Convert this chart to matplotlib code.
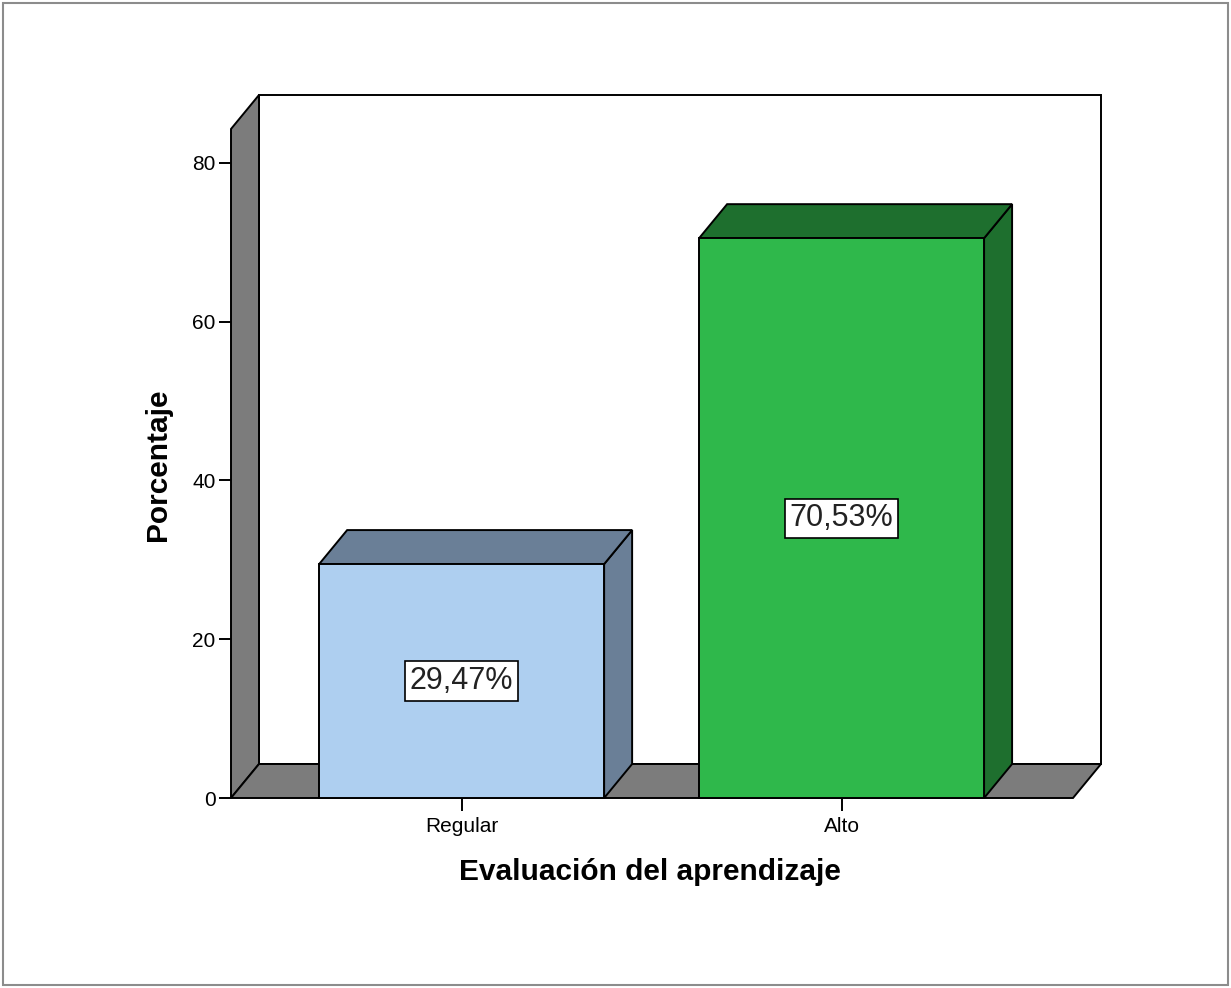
import matplotlib
matplotlib.use("Agg")
import matplotlib.pyplot as plt
from matplotlib.patches import Polygon, Rectangle

plt.rcParams['font.family'] = ['Liberation Sans', 'DejaVu Sans']

# data
categories = ["Regular", "Alto"]
percent = [29.47, 70.53]
value_labels = ["29,47%", "70,53%"]
y_ticks = [0, 20, 40, 60, 80]

face_colors = ["#aecff0", "#2fb84b"]
shade_colors = ["#6a7f97", "#1e6f2e"]
wall_color = "#7c7c7c"

W, H = 1231, 988
fig = plt.figure(figsize=(W / 100, H / 100), dpi=100)
fig.patches.append(Rectangle((3 / W, 3 / H), 1 - 6 / W, 1 - 6 / H,
                             transform=fig.transFigure, fill=False,
                             edgecolor="#8c8c8c", lw=1.5))

# front plane: x from 231 to 1073 px, y=0 at 798 px, y=80 at 163 px
ax = fig.add_axes([231 / W, (H - 798) / H, 842 / W, 635 / H])
xl, xr = -0.607, 1.609
ax.set_xlim(xl, xr)
ax.set_ylim(0, 80)
for s in ax.spines.values():
    s.set_visible(False)

dx = 28 / 380.0          # depth offset in x data units
dy = 34 / 7.9375         # depth offset in y data units
top = 88.57              # top of back wall
bar_w = 0.75
lw = 1.4

def poly(pts, fc, z):
    ax.add_patch(Polygon(pts, closed=True, facecolor=fc, edgecolor="black",
                         lw=lw, clip_on=False, zorder=z, joinstyle="miter"))

# back wall, left wall, floor
poly([(xl + dx, dy), (xr + dx, dy), (xr + dx, top), (xl + dx, top)], "white", 1)
poly([(xl, 0), (xl + dx, dy), (xl + dx, top), (xl, top - dy)], wall_color, 2)
poly([(xl, 0), (xr, 0), (xr + dx, dy), (xl + dx, dy)], wall_color, 2)

for i, (v, lab) in enumerate(zip(percent, value_labels)):
    x0, x1 = i - bar_w / 2, i + bar_w / 2
    poly([(x1, 0), (x1 + dx, dy), (x1 + dx, v + dy), (x1, v)], shade_colors[i], 3)
    poly([(x0, v), (x1, v), (x1 + dx, v + dy), (x0 + dx, v + dy)], shade_colors[i], 3)
    ax.bar(i, v, width=bar_w, color=face_colors[i], edgecolor="black", lw=lw,
           zorder=4, clip_on=False)
    ax.text(i, v / 2, lab, ha="center", va="center", fontsize=22, zorder=6,
            color="#222222",
            bbox=dict(boxstyle="square,pad=0.15", facecolor="white",
                      edgecolor="black", lw=1.2))

ax.set_xticks(range(len(categories)))
ax.set_xticklabels(categories, fontsize=15)
ax.set_yticks(y_ticks)
ax.set_yticklabels([str(t) for t in y_ticks], fontsize=15)
ax.tick_params(axis="x", length=9, width=1.4, pad=5)
ax.tick_params(axis="y", length=9, width=1.4, pad=2)

ax.set_xlabel("Evaluación del aprendizaje", fontsize=21.5, fontweight="bold")
ax.xaxis.label.set_va("center")
ax.xaxis.set_label_coords(0.4976, (798 - 872) / 635)
ax.set_ylabel("Porcentaje", fontsize=21.5, fontweight="bold")
ax.yaxis.label.set_va("center")
ax.yaxis.set_label_coords((158 - 231) / 842, (798 - 465) / 635)

fig.savefig("out.png", dpi=100)
